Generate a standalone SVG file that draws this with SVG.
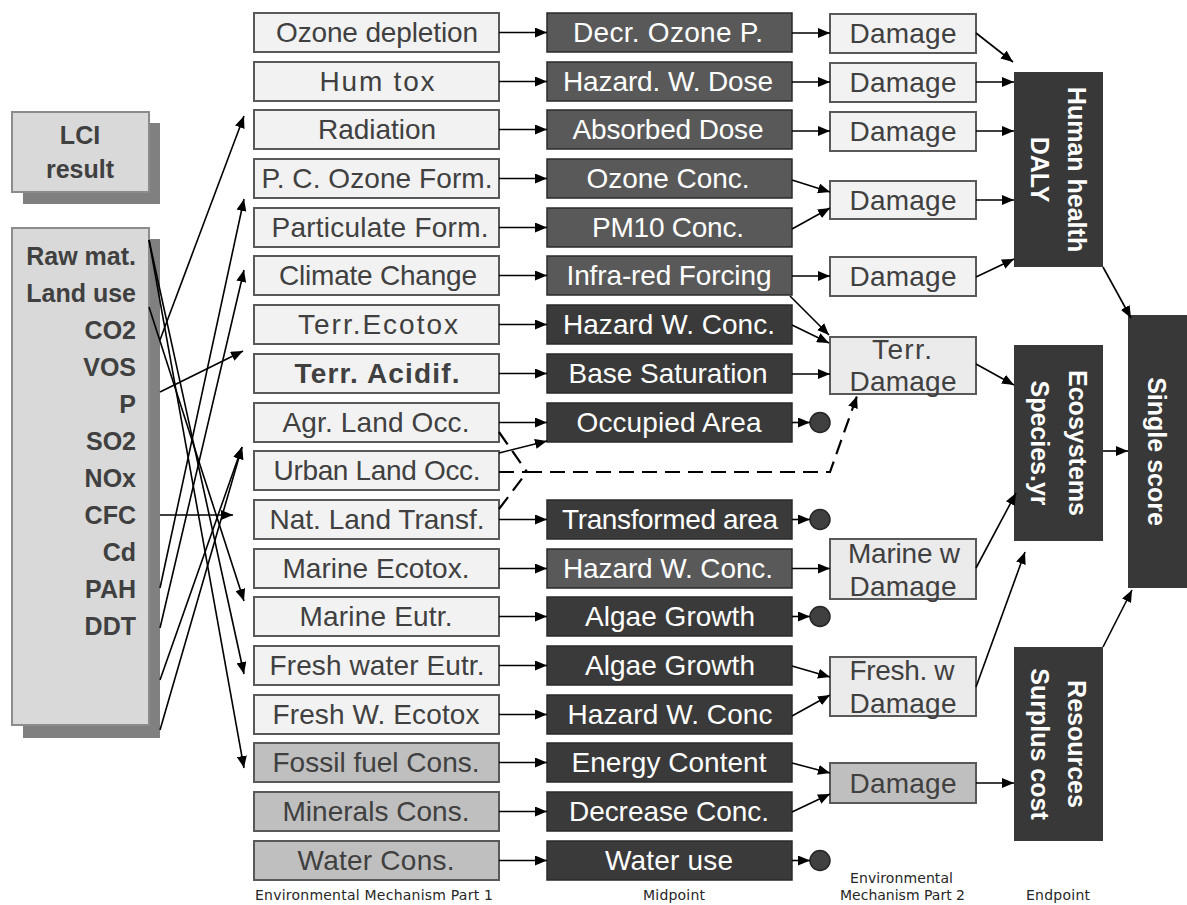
<svg xmlns="http://www.w3.org/2000/svg" width="1187" height="905" viewBox="0 0 1187 905">
  <style>
    .lci { fill: #d9d9d9; stroke: #8c8c8c; stroke-width: 2; }
    .shadow { fill: #808080; }
    .lt { font-family: "Liberation Sans", Arial, sans-serif; font-size: 25px; font-weight: bold; fill: #404040; }
    .b1 { fill: #f2f2f2; stroke: #595959; stroke-width: 2; }
    .b1r { fill: #bfbfbf; stroke: #595959; stroke-width: 2; }
    .t1 { font-family: "Liberation Sans", Arial, sans-serif; font-size: 28px; fill: #404040; text-anchor: middle; }
    .b2 { fill: #3a3a3a; stroke: #2a2a2a; stroke-width: 1.5; }
    .b2m { fill: #595959; stroke: #2a2a2a; stroke-width: 1.5; }
    .t2 { font-family: "Liberation Sans", Arial, sans-serif; font-size: 28px; fill: #ffffff; text-anchor: middle; }
    .b3 { fill: #f2f2f2; stroke: #595959; stroke-width: 2; }
    .b3s { fill: #ebebeb; stroke: #595959; stroke-width: 2; }
    .b3r { fill: #bfbfbf; stroke: #595959; stroke-width: 2; }
    .ep { fill: #383838; }
    .te { font-family: "Liberation Sans", Arial, sans-serif; font-size: 25px; font-weight: bold; fill: #ffffff; text-anchor: middle; }
    .lab { font-family: "DejaVu Sans", Verdana, sans-serif; font-size: 14px; fill: #262626; }
    .dot { fill: #404040; stroke: #262626; stroke-width: 1.5; }
    .con line, .con polyline { stroke: #000; stroke-width: 1.6; fill: none; }
    .dash { stroke-dasharray: 15 8; stroke-width: 2.2 !important; }
  </style>
  <defs>
    <marker id="ah" viewBox="0 0 12 10" refX="12" refY="5" markerWidth="12" markerHeight="10" orient="auto" markerUnits="userSpaceOnUse">
      <path d="M0,0 L12,5 L0,10 z" fill="#000"/>
    </marker>
  </defs>

  <!-- LCI result boxes -->
  <g id="lci-title">
    <rect class="shadow" x="23" y="123" width="137" height="81"/>
    <rect class="lci" x="12" y="112" width="137" height="80"/>
    <text class="lt" x="80" y="144" text-anchor="middle">LCI</text>
    <text class="lt" x="80" y="178" text-anchor="middle">result</text>
  </g>
  <g id="lci-flows">
    <rect class="shadow" x="23" y="239" width="137" height="499"/>
    <rect class="lci" x="12" y="228" width="137" height="497"/>
    <g class="lt" text-anchor="end">
      <text x="136" y="265">Raw mat.</text>
      <text x="136" y="302">Land use</text>
      <text x="136" y="339">CO2</text>
      <text x="136" y="376">VOS</text>
      <text x="136" y="413">P</text>
      <text x="136" y="450">SO2</text>
      <text x="136" y="487">NOx</text>
      <text x="136" y="524">CFC</text>
      <text x="136" y="561">Cd</text>
      <text x="136" y="598">PAH</text>
      <text x="136" y="635">DDT</text>
    </g>
  </g>

  <!-- Environmental mechanism part 1 -->
  <g id="mech1">
    <g id="m1-ozone"><rect class="b1" x="254" y="13" width="245" height="39"/><text class="t1" x="377" y="42" textLength="202" lengthAdjust="spacing">Ozone depletion</text></g>
    <g id="m1-humtox"><rect class="b1" x="254" y="62" width="245" height="39"/><text class="t1" x="377" y="91" textLength="115" lengthAdjust="spacing">Hum tox</text></g>
    <g id="m1-radiation"><rect class="b1" x="254" y="110" width="245" height="39"/><text class="t1" x="377" y="139" textLength="118" lengthAdjust="spacing">Radiation</text></g>
    <g id="m1-pcozone"><rect class="b1" x="254" y="159" width="245" height="39"/><text class="t1" x="377" y="188" textLength="231" lengthAdjust="spacing">P. C. Ozone Form.</text></g>
    <g id="m1-particulate"><rect class="b1" x="254" y="208" width="245" height="39"/><text class="t1" x="380" y="237" textLength="217" lengthAdjust="spacing">Particulate Form.</text></g>
    <g id="m1-climate"><rect class="b1" x="254" y="256" width="245" height="39"/><text class="t1" x="378" y="285" textLength="198" lengthAdjust="spacing">Climate Change</text></g>
    <g id="m1-terrecotox"><rect class="b1" x="254" y="305" width="245" height="39"/><text class="t1" x="378" y="334" textLength="160" lengthAdjust="spacing">Terr.Ecotox</text></g>
    <g id="m1-acidif"><rect class="b1" x="254" y="354" width="245" height="39"/><text class="t1" x="377" y="383" textLength="165" lengthAdjust="spacing" font-weight="bold">Terr. Acidif.</text></g>
    <g id="m1-agrland"><rect class="b1" x="254" y="403" width="245" height="39"/><text class="t1" x="376" y="432" textLength="187" lengthAdjust="spacing">Agr. Land Occ.</text></g>
    <g id="m1-urbanland"><rect class="b1" x="254" y="451" width="245" height="39"/><text class="t1" x="377" y="480" textLength="207" lengthAdjust="spacing">Urban Land Occ.</text></g>
    <g id="m1-natland"><rect class="b1" x="254" y="500" width="245" height="39"/><text class="t1" x="377" y="529" textLength="215" lengthAdjust="spacing">Nat. Land Transf.</text></g>
    <g id="m1-marineecotox"><rect class="b1" x="254" y="549" width="245" height="39"/><text class="t1" x="376" y="578" textLength="187" lengthAdjust="spacing">Marine Ecotox.</text></g>
    <g id="m1-marineeutr"><rect class="b1" x="254" y="597" width="245" height="39"/><text class="t1" x="376" y="626" textLength="153" lengthAdjust="spacing">Marine Eutr.</text></g>
    <g id="m1-fresheutr"><rect class="b1" x="254" y="646" width="245" height="39"/><text class="t1" x="377" y="675" textLength="215" lengthAdjust="spacing">Fresh water Eutr.</text></g>
    <g id="m1-freshecotox"><rect class="b1" x="254" y="695" width="245" height="39"/><text class="t1" x="376" y="724" textLength="207" lengthAdjust="spacing">Fresh W. Ecotox</text></g>
    <g id="m1-fossil"><rect class="b1r" x="254" y="743" width="245" height="39"/><text class="t1" x="376" y="772" textLength="207" lengthAdjust="spacing">Fossil fuel Cons.</text></g>
    <g id="m1-minerals"><rect class="b1r" x="254" y="792" width="245" height="39"/><text class="t1" x="376" y="821" textLength="187" lengthAdjust="spacing">Minerals Cons.</text></g>
    <g id="m1-water"><rect class="b1r" x="254" y="841" width="245" height="39"/><text class="t1" x="376" y="870" textLength="157" lengthAdjust="spacing">Water Cons.</text></g>
  </g>

  <!-- Midpoint indicators -->
  <g id="midpoint">
    <g id="mp-decrozone"><rect class="b2m" x="547" y="13" width="245" height="39"/><text class="t2" x="668" y="42" textLength="190" lengthAdjust="spacing">Decr. Ozone P.</text></g>
    <g id="mp-hazdose"><rect class="b2m" x="547" y="62" width="245" height="39"/><text class="t2" x="668" y="91" textLength="210" lengthAdjust="spacing">Hazard. W. Dose</text></g>
    <g id="mp-absorbed"><rect class="b2m" x="547" y="110" width="245" height="39"/><text class="t2" x="668" y="139" textLength="191" lengthAdjust="spacing">Absorbed Dose</text></g>
    <g id="mp-ozoneconc"><rect class="b2m" x="547" y="159" width="245" height="39"/><text class="t2" x="668" y="188" textLength="163" lengthAdjust="spacing">Ozone Conc.</text></g>
    <g id="mp-pm10"><rect class="b2m" x="547" y="208" width="245" height="39"/><text class="t2" x="668" y="237" textLength="152" lengthAdjust="spacing">PM10 Conc.</text></g>
    <g id="mp-infrared"><rect class="b2m" x="547" y="256" width="245" height="39"/><text class="t2" x="669" y="285" textLength="205" lengthAdjust="spacing">Infra-red Forcing</text></g>
    <g id="mp-hazconc-terr"><rect class="b2" x="547" y="305" width="245" height="39"/><text class="t2" x="669" y="334" textLength="212" lengthAdjust="spacing">Hazard W. Conc.</text></g>
    <g id="mp-basesat"><rect class="b2" x="547" y="354" width="245" height="39"/><text class="t2" x="668" y="383" textLength="199" lengthAdjust="spacing">Base Saturation</text></g>
    <g id="mp-occupied"><rect class="b2" x="547" y="403" width="245" height="39"/><text class="t2" x="669" y="432" textLength="185" lengthAdjust="spacing">Occupied Area</text></g>
    <g id="mp-transformed"><rect class="b2" x="547" y="500" width="245" height="39"/><text class="t2" x="670" y="529" textLength="216" lengthAdjust="spacing">Transformed area</text></g>
    <g id="mp-hazconc-marine"><rect class="b2m" x="547" y="549" width="245" height="39"/><text class="t2" x="668" y="578" textLength="210" lengthAdjust="spacing">Hazard W. Conc.</text></g>
    <g id="mp-algae-marine"><rect class="b2" x="547" y="597" width="245" height="39"/><text class="t2" x="670" y="626" textLength="170" lengthAdjust="spacing">Algae Growth</text></g>
    <g id="mp-algae-fresh"><rect class="b2" x="547" y="646" width="245" height="39"/><text class="t2" x="670" y="675" textLength="170" lengthAdjust="spacing">Algae Growth</text></g>
    <g id="mp-hazconc-fresh"><rect class="b2" x="547" y="695" width="245" height="39"/><text class="t2" x="670" y="724" textLength="205" lengthAdjust="spacing">Hazard W. Conc</text></g>
    <g id="mp-energy"><rect class="b2" x="547" y="743" width="245" height="39"/><text class="t2" x="669" y="772" textLength="195" lengthAdjust="spacing">Energy Content</text></g>
    <g id="mp-decrconc"><rect class="b2" x="547" y="792" width="245" height="39"/><text class="t2" x="669" y="821" textLength="200" lengthAdjust="spacing">Decrease Conc.</text></g>
    <g id="mp-wateruse"><rect class="b2" x="547" y="841" width="245" height="39"/><text class="t2" x="669" y="870" textLength="128" lengthAdjust="spacing">Water use</text></g>
  </g>

  <!-- Environmental mechanism part 2 -->
  <g id="mech2">
    <g id="dm-1"><rect class="b3" x="830" y="14" width="146" height="39"/><text class="t1" x="903" y="43" textLength="107" lengthAdjust="spacing">Damage</text></g>
    <g id="dm-2"><rect class="b3" x="830" y="63" width="146" height="39"/><text class="t1" x="903" y="92" textLength="107" lengthAdjust="spacing">Damage</text></g>
    <g id="dm-3"><rect class="b3" x="830" y="112" width="146" height="39"/><text class="t1" x="903" y="141" textLength="107" lengthAdjust="spacing">Damage</text></g>
    <g id="dm-4"><rect class="b3" x="830" y="181" width="146" height="38"/><text class="t1" x="903" y="210" textLength="107" lengthAdjust="spacing">Damage</text></g>
    <g id="dm-5"><rect class="b3" x="830" y="257" width="146" height="39"/><text class="t1" x="903" y="286" textLength="107" lengthAdjust="spacing">Damage</text></g>
    <g id="dm-terr"><rect class="b3s" x="830" y="337" width="146" height="57"/><text class="t1" x="902" y="359" textLength="60" lengthAdjust="spacing">Terr.</text><text class="t1" x="903" y="391" textLength="107" lengthAdjust="spacing">Damage</text></g>
    <g id="dm-marine"><rect class="b3s" x="830" y="539" width="146" height="60"/><text class="t1" x="904" y="563" textLength="112" lengthAdjust="spacing">Marine w</text><text class="t1" x="903" y="596" textLength="107" lengthAdjust="spacing">Damage</text></g>
    <g id="dm-fresh"><rect class="b3s" x="830" y="657" width="146" height="59"/><text class="t1" x="902" y="680" textLength="105" lengthAdjust="spacing">Fresh. w</text><text class="t1" x="903" y="713" textLength="107" lengthAdjust="spacing">Damage</text></g>
    <g id="dm-resources"><rect class="b3r" x="830" y="763" width="146" height="40"/><text class="t1" x="903" y="793" textLength="107" lengthAdjust="spacing">Damage</text></g>
  </g>

  <!-- Endpoints -->
  <g id="ep-human">
    <rect class="ep" x="1014" y="72" width="89" height="195"/>
    <text class="te" transform="translate(1068,169.5) rotate(90)">Human health</text>
    <text class="te" transform="translate(1031,169.5) rotate(90)">DALY</text>
  </g>
  <g id="ep-eco">
    <rect class="ep" x="1014" y="345" width="89" height="196"/>
    <text class="te" transform="translate(1069,443) rotate(90)">Ecosystems</text>
    <text class="te" transform="translate(1031,443) rotate(90)">Species.yr</text>
  </g>
  <g id="ep-resources">
    <rect class="ep" x="1014" y="647" width="89" height="194"/>
    <text class="te" transform="translate(1068,744) rotate(90)">Resources</text>
    <text class="te" transform="translate(1031,744) rotate(90)">Surplus cost</text>
  </g>
  <g id="ep-single">
    <rect class="ep" x="1128" y="315" width="59" height="273"/>
    <text class="te" transform="translate(1148,451.5) rotate(90)">Single score</text>
  </g>

  <!-- Terminal dots for midpoints without endpoint link -->
  <g id="dots">
    <circle class="dot" cx="820" cy="422.5" r="10"/>
    <circle class="dot" cx="820" cy="519.5" r="10"/>
    <circle class="dot" cx="820" cy="616.5" r="10"/>
    <circle class="dot" cx="820" cy="860.5" r="10"/>
  </g>

  <!-- Connectors -->
  <g id="connectors" class="con">
    <!-- LCI result to mechanism part 1 -->
    <line x1="160" y1="340" x2="244" y2="116" marker-end="url(#ah)"/>
    <line x1="160" y1="588" x2="244" y2="199" marker-end="url(#ah)"/>
    <line x1="160" y1="628" x2="244" y2="270" marker-end="url(#ah)"/>
    <line x1="160" y1="392" x2="243" y2="351" marker-end="url(#ah)"/>
    <line x1="160" y1="680" x2="242" y2="447" marker-end="url(#ah)"/>
    <line x1="160" y1="730" x2="242" y2="447" marker-end="url(#ah)"/>
    <line x1="160" y1="515" x2="233" y2="515" marker-end="url(#ah)"/>
    <line x1="149" y1="240" x2="244" y2="768" marker-end="url(#ah)"/>
    <line x1="149" y1="240" x2="244" y2="674" marker-end="url(#ah)"/>
    <line x1="149" y1="307" x2="244" y2="601" marker-end="url(#ah)"/>

    <!-- mechanism part 1 to midpoint -->
    <line x1="499" y1="32.5" x2="547" y2="32.5" marker-end="url(#ah)"/>
    <line x1="499" y1="81.5" x2="547" y2="81.5" marker-end="url(#ah)"/>
    <line x1="499" y1="129.5" x2="547" y2="129.5" marker-end="url(#ah)"/>
    <line x1="499" y1="178.5" x2="547" y2="178.5" marker-end="url(#ah)"/>
    <line x1="499" y1="227.5" x2="547" y2="227.5" marker-end="url(#ah)"/>
    <line x1="499" y1="275.5" x2="547" y2="275.5" marker-end="url(#ah)"/>
    <line x1="499" y1="324.5" x2="547" y2="324.5" marker-end="url(#ah)"/>
    <line x1="499" y1="373.5" x2="547" y2="373.5" marker-end="url(#ah)"/>
    <line x1="499" y1="422.5" x2="547" y2="422.5" marker-end="url(#ah)"/>
    <line x1="499" y1="453" x2="547" y2="441" marker-end="url(#ah)"/>
    <line x1="499" y1="519.5" x2="547" y2="519.5" marker-end="url(#ah)"/>
    <line x1="499" y1="568.5" x2="547" y2="568.5" marker-end="url(#ah)"/>
    <line x1="499" y1="616.5" x2="547" y2="616.5" marker-end="url(#ah)"/>
    <line x1="499" y1="665.5" x2="547" y2="665.5" marker-end="url(#ah)"/>
    <line x1="499" y1="714.5" x2="547" y2="714.5" marker-end="url(#ah)"/>
    <line x1="499" y1="762.5" x2="547" y2="762.5" marker-end="url(#ah)"/>
    <line x1="499" y1="811.5" x2="547" y2="811.5" marker-end="url(#ah)"/>
    <line x1="499" y1="860.5" x2="547" y2="860.5" marker-end="url(#ah)"/>

    <!-- land use to terrestrial damage (dashed) -->
    <line class="dash" x1="499" y1="432" x2="527" y2="472"/>
    <line class="dash" x1="499" y1="472" x2="527" y2="472"/>
    <line class="dash" x1="499" y1="509" x2="527" y2="472"/>
    <polyline class="dash" points="527,472 830,472 857,396" marker-end="url(#ah)"/>

    <!-- midpoint to mechanism part 2 -->
    <line x1="792" y1="33" x2="830" y2="33" marker-end="url(#ah)"/>
    <line x1="792" y1="82" x2="830" y2="82" marker-end="url(#ah)"/>
    <line x1="792" y1="131" x2="830" y2="131" marker-end="url(#ah)"/>
    <line x1="792" y1="180" x2="830" y2="192" marker-end="url(#ah)"/>
    <line x1="792" y1="229" x2="830" y2="208" marker-end="url(#ah)"/>
    <line x1="792" y1="276" x2="830" y2="276" marker-end="url(#ah)"/>
    <line x1="790" y1="296" x2="829" y2="335" marker-end="url(#ah)"/>
    <line x1="792" y1="325" x2="829" y2="343" marker-end="url(#ah)"/>
    <line x1="792" y1="374" x2="830" y2="374" marker-end="url(#ah)"/>
    <line x1="792" y1="422.5" x2="810" y2="422.5" marker-end="url(#ah)"/>
    <line x1="792" y1="519.5" x2="810" y2="519.5" marker-end="url(#ah)"/>
    <line x1="792" y1="568.5" x2="830" y2="568.5" marker-end="url(#ah)"/>
    <line x1="792" y1="616.5" x2="810" y2="616.5" marker-end="url(#ah)"/>
    <line x1="792" y1="666" x2="830" y2="677" marker-end="url(#ah)"/>
    <line x1="792" y1="716" x2="830" y2="695" marker-end="url(#ah)"/>
    <line x1="792" y1="763" x2="830" y2="773" marker-end="url(#ah)"/>
    <line x1="792" y1="812" x2="830" y2="794" marker-end="url(#ah)"/>
    <line x1="792" y1="860.5" x2="810" y2="860.5" marker-end="url(#ah)"/>

    <!-- mechanism part 2 to endpoints -->
    <line x1="976" y1="33" x2="1013" y2="62" marker-end="url(#ah)"/>
    <line x1="976" y1="82" x2="1014" y2="82" marker-end="url(#ah)"/>
    <line x1="976" y1="131" x2="1014" y2="131" marker-end="url(#ah)"/>
    <line x1="976" y1="200" x2="1014" y2="200" marker-end="url(#ah)"/>
    <line x1="976" y1="277" x2="1014" y2="259" marker-end="url(#ah)"/>
    <line x1="976" y1="364" x2="1014" y2="385" marker-end="url(#ah)"/>
    <line x1="976" y1="568" x2="1016" y2="493" marker-end="url(#ah)"/>
    <line x1="976" y1="687" x2="1025" y2="552" marker-end="url(#ah)"/>
    <line x1="976" y1="783" x2="1014" y2="783" marker-end="url(#ah)"/>

    <!-- endpoints to single score -->
    <line x1="1103" y1="267" x2="1131" y2="318" marker-end="url(#ah)"/>
    <line x1="1103" y1="451" x2="1128" y2="451" marker-end="url(#ah)"/>
    <line x1="1103" y1="647" x2="1132" y2="590" marker-end="url(#ah)"/>
  </g>

  <!-- Column captions -->
  <g id="captions" class="lab">
    <text x="255" y="900" textLength="238" lengthAdjust="spacing">Environmental Mechanism Part 1</text>
    <text x="643" y="900" textLength="62" lengthAdjust="spacing">Midpoint</text>
    <text x="850" y="883" textLength="103" lengthAdjust="spacing">Environmental</text>
    <text x="840" y="900" textLength="125" lengthAdjust="spacing">Mechanism Part 2</text>
    <text x="1026" y="900" textLength="64" lengthAdjust="spacing">Endpoint</text>
  </g>
</svg>
